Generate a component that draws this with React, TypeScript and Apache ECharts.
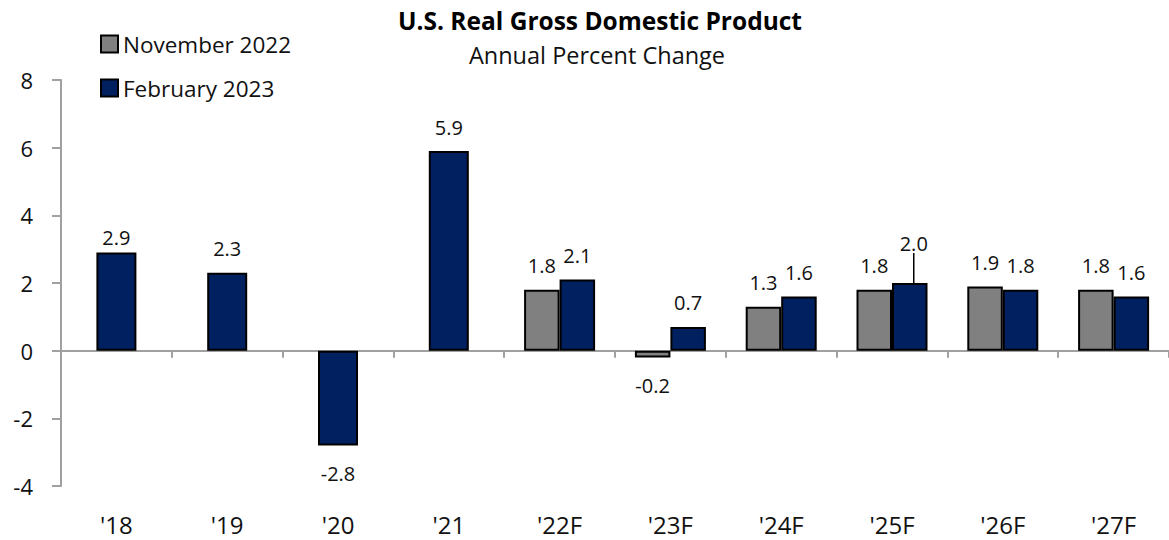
import React, { useEffect, useRef } from "react";
import * as echarts from "echarts";

const categories = ["'18", "'19", "'20", "'21", "'22F", "'23F", "'24F", "'25F", "'26F", "'27F"];
const historical = [2.9, 2.3, -2.8, 5.9, null, null, null, null, null, null];
const november2022 = [null, null, null, null, 1.8, -0.2, 1.3, 1.8, 1.9, 1.8];
const february2023 = [null, null, null, null, 2.1, 0.7, 1.6, 2.0, 1.8, 1.6];
const yTicks = { min: -4, max: 8, interval: 2 };

const FONT = '"Open Sans", "Noto Sans", sans-serif';
const GRAY = "#808080";
const NAVY = "#002060";
const AXIS = "#a0a0a0";
const TEXT = "#111111";

// label styling tweaks (index -> label distance), not data
const labelDistanceTweak: Record<number, number> = { 0: 5 };
const leaderLineIndex = 7; // February 2023 '25F label with a leader line

function toItems(arr: (number | null)[], withLeader: boolean) {
  return arr.map((v, i) => {
    if (v == null) return null;
    if (v < 0) return { value: v, label: { position: "bottom", distance: 18 } };
    if (withLeader && i === leaderLineIndex) {
      return {
        value: v,
        labelLine: { show: true, length2: 0, lineStyle: { color: "#000", width: 1.5 } },
      };
    }
    if (labelDistanceTweak[i] != null) return { value: v, label: { distance: labelDistanceTweak[i] } };
    return { value: v };
  });
}

const labelBase = {
  show: true,
  position: "top",
  distance: 14,
  fontSize: 20,
  lineHeight: 20,
  fontFamily: FONT,
  color: TEXT,
  formatter: (p: any) => Number(p.value).toFixed(1),
};

export default function App() {
  const ref = useRef<HTMLDivElement>(null);
  useEffect(() => {
    document.body.style.margin = "0";
    if (!ref.current) return;
    const chart = echarts.init(ref.current, undefined, { renderer: "svg" });
    const option: any = {
      animation: false,
      backgroundColor: "#ffffff",
      grid: { left: 61, top: 80, width: 1117, height: 406, containLabel: false },
      legend: {
        data: ["November 2022", "February 2023"],
        orient: "vertical",
        left: 100,
        top: 32,
        padding: 0,
        icon: "rect",
        itemWidth: 17,
        itemHeight: 17,
        itemGap: 20,
        selectedMode: false,
        textStyle: { fontSize: 22.5, lineHeight: 24, fontFamily: FONT, color: TEXT },
      },
      graphic: [
        {
          type: "text",
          x: 600,
          y: 20,
          style: {
            text: "U.S. Real Gross Domestic Product",
            fontSize: 24.5,
            fontWeight: "bold",
            fontFamily: FONT,
            fill: "#000",
            align: "center",
            verticalAlign: "middle",
          },
        },
        {
          type: "text",
          x: 597,
          y: 55,
          style: {
            text: "Annual Percent Change",
            fontSize: 23.5,
            fontFamily: FONT,
            fill: TEXT,
            align: "center",
            verticalAlign: "middle",
          },
        },
      ],
      xAxis: [
        {
          type: "category",
          data: categories,
          position: "bottom",
          axisLine: { show: true, onZero: true, lineStyle: { color: AXIS, width: 2 } },
          axisTick: { show: true, length: 7, lineStyle: { color: AXIS, width: 2 } },
          axisLabel: { show: false },
          splitLine: { show: false },
        },
        {
          type: "category",
          data: categories,
          position: "bottom",
          axisLine: { show: false, onZero: false },
          axisTick: { show: false },
          axisLabel: { show: true, fontSize: 24, fontFamily: FONT, color: TEXT, margin: 26 },
          splitLine: { show: false },
        },
      ],
      yAxis: {
        type: "value",
        min: yTicks.min,
        max: yTicks.max,
        interval: yTicks.interval,
        axisLine: { show: true, lineStyle: { color: AXIS, width: 2 } },
        axisTick: { show: true, length: 9, lineStyle: { color: AXIS, width: 2 } },
        axisLabel: { fontSize: 22, fontFamily: FONT, color: TEXT, margin: 28 },
        splitLine: { show: false },
      },
      series: [
        {
          name: "February 2023",
          type: "bar",
          xAxisIndex: 1,
          barWidth: 40,
          data: toItems(historical, false),
          itemStyle: { color: NAVY, borderColor: "#000", borderWidth: 2 },
          label: labelBase,
        },
        {
          name: "November 2022",
          type: "bar",
          xAxisIndex: 0,
          barWidth: 35.5,
          barGap: 0,
          data: toItems(november2022, false),
          itemStyle: { color: GRAY, borderColor: "#000", borderWidth: 2 },
          label: labelBase,
        },
        {
          name: "February 2023",
          type: "bar",
          xAxisIndex: 0,
          barWidth: 35.5,
          barGap: 0,
          data: toItems(february2023, true),
          itemStyle: { color: NAVY, borderColor: "#000", borderWidth: 2 },
          label: labelBase,
          labelLayout: (params: any) =>
            params.dataIndex === leaderLineIndex ? { dx: 4, dy: -16 } : {},
        },
      ],
    };
    chart.setOption(option);
    return () => chart.dispose();
  }, []);
  return <div ref={ref} style={{ width: 1169, height: 540 }} />;
}
